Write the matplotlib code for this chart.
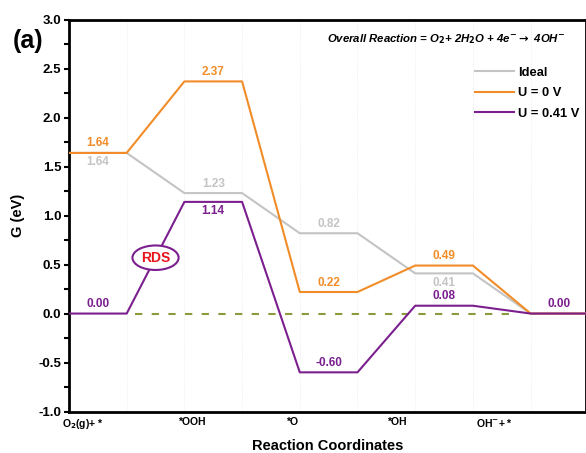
import matplotlib.pyplot as plt
import numpy as np
from matplotlib.patches import Ellipse

plt.rcParams['font.family'] = ['Liberation Sans', 'DejaVu Sans']
plt.rcParams['font.weight'] = 'bold'

steps = ["O$_2$(g)+ *", "*OOH", "*O", "*OH", "OH$^{-}$+ *"]
step_label_pos = [0.24, 2.13, 3.86, 5.69, 7.38]
ideal = [1.64, 1.23, 0.82, 0.41, 0.00]
u0 = [1.64, 2.37, 0.22, 0.49, 0.00]
u041 = [0.00, 1.14, -0.60, 0.08, 0.00]

c_ideal = "#c4c4c4"
c_u0 = "#f28c28"
c_u041 = "#7b1f8e"

fig = plt.figure(figsize=(5.86, 4.53), dpi=100)
ax = fig.add_axes([0.1177, 0.0916, 0.8823, 0.8649])

# each level spans one unit, joined to the next by a sloped connector
xs = np.arange(10)
for levels, col, lab in [(ideal, c_ideal, "Ideal"), (u0, c_u0, "U = 0 V"), (u041, c_u041, "U = 0.41 V")]:
    ax.plot(xs, np.repeat(levels, 2), color=col, lw=1.5, label=lab, zorder=3)

ax.plot([1.15, 7.75], [0, 0], ls=(0, (3.5, 4.5)), color="#8c9a3c", lw=1.5, zorder=2)

# value labels: above (+1) or below (-1) each level
offsets = {
    c_ideal: (ideal, [-1, 1, 1, -1, None]),
    c_u0: (u0, [1, 1, 1, 1, None]),
    c_u041: (u041, [1, -1, 1, 1, 1]),
}
for col, (levels, sides) in offsets.items():
    for i, (v, s) in enumerate(zip(levels, sides)):
        if s is None:
            continue
        ax.annotate(f"{v:.2f}", (2 * i + 0.5, v), xytext=(0, 2.5 * s), textcoords="offset points",
                    ha="center", va="bottom" if s > 0 else "top", color=col,
                    fontsize=8.5, fontweight="bold", zorder=4)

ell = Ellipse((1.5, 0.57), 0.8, 0.25, facecolor="white", edgecolor=c_u041, lw=1.5, zorder=5)
ax.add_patch(ell)
ax.text(1.5, 0.57, "RDS", color="#e8151b", ha="center", va="center",
        fontsize=10, fontweight="bold", zorder=6)

ax.set_xlim(0, 8.96)
ax.set_ylim(-1.0, 3.0)
yt = np.arange(-1.0, 3.01, 0.5)
ax.set_yticks(yt)
ax.set_yticks(np.arange(-1.0, 3.01, 0.25), minor=True)
ax.set_yticklabels([f"{t:.1f}" for t in yt], fontsize=9.5, fontweight="bold")
ax.tick_params(axis="y", which="both", direction="out", length=3.5, width=1.5, pad=2)
ax.set_xticks(step_label_pos)
ax.set_xticklabels(steps, fontsize=7.5, fontweight="bold")
ax.tick_params(axis="x", length=0, pad=4)

for x in range(1, 9):
    ax.axvline(x, color="#e4e4e4", lw=0.6, ls=(0, (1, 2)), zorder=1)

for side in ["left", "top", "bottom", "right"]:
    ax.spines[side].set_linewidth(2)

ax.set_xlabel("Reaction Coordinates", fontsize=10.5, fontweight="bold", labelpad=6)
ax.set_ylabel("G (eV)", fontsize=10.5, fontweight="bold", labelpad=10)

ax.text(0.959, 0.968, "Overall Reaction = O$_2$+ 2H$_2$O + 4e$^{-}$$\\rightarrow$ 4OH$^{-}$",
        transform=ax.transAxes, ha="right", va="top", fontsize=8.2, fontstyle="italic", fontweight="bold")

ax.legend(loc="upper right", bbox_to_anchor=(1.01, 0.91), frameon=False,
          handlelength=3.0, handletextpad=0.35, labelspacing=0.65,
          prop={"size": 9.3, "weight": "bold"})

fig.text(0.022, 0.893, "(a)", fontsize=18, fontweight="bold")

fig.savefig("out.png", dpi=100)
